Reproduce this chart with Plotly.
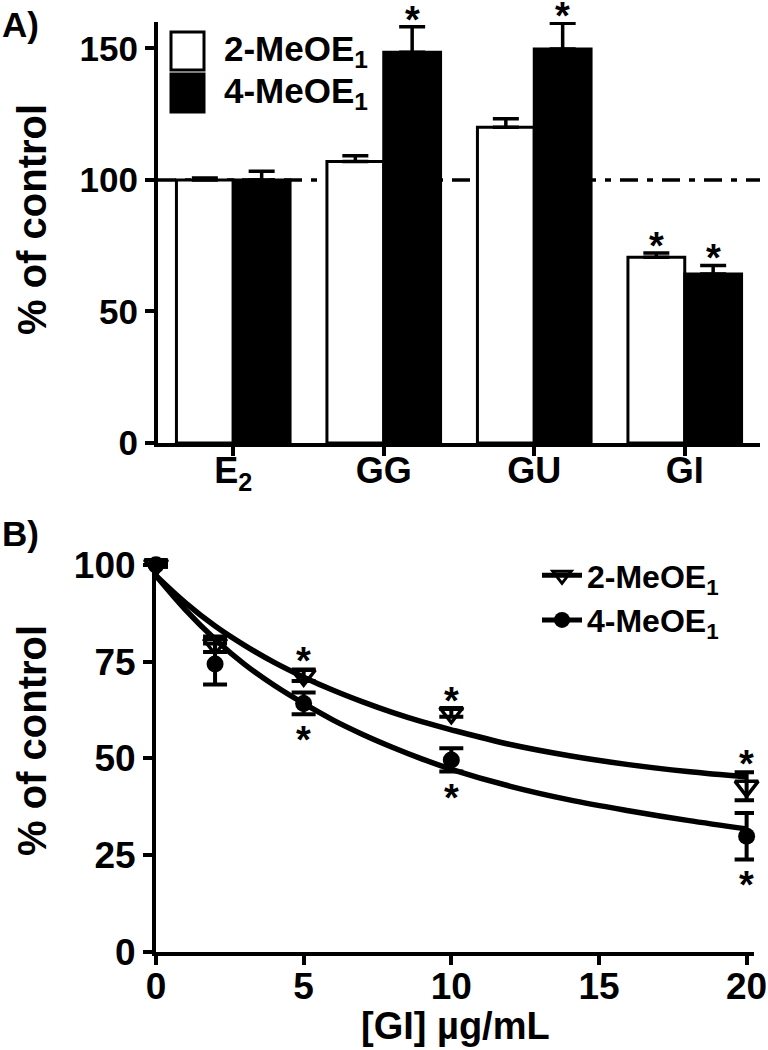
import plotly.graph_objects as go

W, H = 768, 1050

# panel A: % of control per treatment
categories = ["E<sub>2</sub>", "GG", "GU", "GI"]
a_2meo = [100, 107, 120, 70.6]
a_2meo_err = [0.7, 2.2, 3.2, 1.6]
a_4meo = [100, 148.5, 149.7, 64.2]
a_4meo_err = [3.3, 9.7, 9.8, 3.3]
a_2meo_star = [False, False, False, True]
a_4meo_star = [False, True, True, True]

# panel B: dose response to GI
b_dose = [0, 2, 5, 10, 20]
b_2meo = [100, 79.5, 71.5, 61.8, 42.8]
b_2meo_err = [0.5, 2.0, 1.5, 1.0, 3.6]
b_4meo = [100, 74.4, 64.2, 49.6, 29.9]
b_4meo_err = [0.5, 5.3, 2.8, 3.0, 6.0]
b_2meo_star = [False, False, True, True, True]
b_4meo_star = [False, False, True, True, True]

# fitted curves
fit_x = [0, 1, 2, 3, 4, 5, 6, 7, 8, 9, 10, 12, 14, 16, 18, 20]
fit_2meo = [97.2, 90.2, 84.2, 79.2, 74.8, 71.0, 67.6, 64.6, 61.9, 59.5, 57.4, 53.6, 50.7, 48.4, 46.6, 45.2]
fit_4meo = [97.2, 88.4, 80.8, 74.3, 68.9, 64.2, 59.9, 56.2, 52.9, 49.9, 47.2, 42.8, 39.3, 36.5, 34.0, 31.8]

FONT = "Liberation Sans, Arial, sans-serif"
LW = 4

# pixel boxes of the two plot areas
A_X0, A_X1, A_Y0, A_Y1 = 158, 760, 22, 443
B_X0, B_X1, B_Y0, B_Y1 = 156, 754, 561, 952
A_YR = [0, 160]
B_XR = [0, 20.25]
B_YR = [0, 101]
BARGAP = 0.245


def px(x):
    return x / W


def py(y):
    return 1 - y / H


fig = go.Figure()

fig.add_trace(go.Bar(
    x=categories, y=a_2meo, name="2-MeOE<sub>1</sub>", showlegend=False,
    marker=dict(color="white", line=dict(color="black", width=3)),
    error_y=dict(type="data", array=a_2meo_err, arrayminus=[0] * 4, symmetric=False,
                 color="black", thickness=3.5, width=13),
    cliponaxis=False, xaxis="x", yaxis="y",
))
fig.add_trace(go.Bar(
    x=categories, y=a_4meo, name="4-MeOE<sub>1</sub>", showlegend=False,
    marker=dict(color="black", line=dict(color="black", width=3)),
    error_y=dict(type="data", array=a_4meo_err, arrayminus=[0] * 4, symmetric=False,
                 color="black", thickness=3.5, width=13),
    cliponaxis=False, xaxis="x", yaxis="y",
))

# panel B fits
fig.add_trace(go.Scatter(x=fit_x, y=fit_2meo, mode="lines", showlegend=False,
                         line=dict(color="black", width=5.5, shape="spline"),
                         xaxis="x2", yaxis="y2", hoverinfo="skip"))
fig.add_trace(go.Scatter(x=fit_x, y=fit_4meo, mode="lines", showlegend=False,
                         line=dict(color="black", width=5.5, shape="spline"),
                         xaxis="x2", yaxis="y2", hoverinfo="skip"))

# panel B points
fig.add_trace(go.Scatter(
    x=b_dose, y=b_2meo, mode="markers", showlegend=False,
    marker=dict(symbol="triangle-down-open", size=20, color="black", line=dict(width=3.5, color="black")),
    error_y=dict(type="data", array=b_2meo_err, color="black", thickness=4, width=12),
    cliponaxis=False, xaxis="x2", yaxis="y2",
))
fig.add_trace(go.Scatter(
    x=b_dose, y=b_4meo, mode="markers", showlegend=False,
    marker=dict(symbol="circle", size=17, color="black"),
    error_y=dict(type="data", array=b_4meo_err, color="black", thickness=4, width=12),
    cliponaxis=False, xaxis="x2", yaxis="y2",
))

# legend entries for B
fig.add_trace(go.Scatter(
    x=[None], y=[None], mode="lines+markers", name="2-MeOE<sub>1</sub>",
    marker=dict(symbol="triangle-down-open", size=16, color="black", line=dict(width=3)),
    line=dict(color="black", width=5), xaxis="x2", yaxis="y2",
))
fig.add_trace(go.Scatter(
    x=[None], y=[None], mode="lines+markers", name="4-MeOE<sub>1</sub>",
    marker=dict(symbol="circle", size=16, color="black"),
    line=dict(color="black", width=5), xaxis="x2", yaxis="y2",
))

axis_common = dict(showline=True, linecolor="black", linewidth=LW, ticks="outside",
                   ticklen=9, tickwidth=LW, tickcolor="black", showgrid=False,
                   zeroline=False, fixedrange=True, automargin=False)

fig.update_layout(
    width=W, height=H,
    margin=dict(l=0, r=0, t=0, b=0, autoexpand=False),
    paper_bgcolor="white", plot_bgcolor="white",
    font=dict(family=FONT, color="black", size=30, weight="bold"),
    barmode="group", bargap=BARGAP, bargroupgap=0,
    xaxis=dict(domain=[px(A_X0), px(A_X1)], anchor="y", type="category",
               range=[-0.5, 3.5], tickfont=dict(size=36, weight="bold"),
               ticklabelstandoff=-16, **axis_common),
    yaxis=dict(domain=[py(A_Y1), py(A_Y0)], anchor="x", range=A_YR,
               tickvals=[0, 50, 100, 150], tickfont=dict(size=35, weight="bold"), **axis_common),
    xaxis2=dict(domain=[px(B_X0), px(B_X1)], anchor="y2", range=B_XR,
                tickvals=[0, 5, 10, 15, 20], tickfont=dict(size=37, weight="bold"),
                ticklabelstandoff=-10, **axis_common),
    yaxis2=dict(domain=[py(B_Y1), py(B_Y0)], anchor="x2", range=B_YR,
                tickvals=[0, 25, 50, 75, 100], tickfont=dict(size=37, weight="bold"), **axis_common),
    legend=dict(x=px(537), y=py(548), xanchor="left", yanchor="top",
                font=dict(size=32, weight="bold"), bgcolor="rgba(0,0,0,0)",
                tracegroupgap=0, itemwidth=40),
    showlegend=True,
)

# dash-dot reference line at 100 %
fig.add_shape(type="line", xref="x domain", yref="y", x0=0, x1=1, y0=100, y1=100,
              line=dict(color="black", width=3.5, dash="18px,9px,6px,9px"), layer="below")

# custom legend for panel A
fig.add_shape(type="rect", xref="paper", yref="paper", x0=px(171), x1=px(204), y0=py(32), y1=py(70),
              line=dict(color="black", width=3), fillcolor="white")
fig.add_shape(type="rect", xref="paper", yref="paper", x0=px(171), x1=px(204), y0=py(74), y1=py(112),
              line=dict(color="black", width=3), fillcolor="black")
for label, yc in [("2-MeOE<sub>1</sub>", 51), ("4-MeOE<sub>1</sub>", 93)]:
    fig.add_annotation(text=label, xref="paper", yref="paper", x=px(222), y=py(yc),
                       xanchor="left", yanchor="middle", showarrow=False,
                       font=dict(size=35, weight="bold"))

STAR = 38
# asterisks panel A
a_ppu = (A_Y1 - A_Y0) / (A_YR[1] - A_YR[0])
cat_px = (A_X1 - A_X0) / 4
off_px = (1 - BARGAP) / 4 * cat_px
for vals, errs, stars, sign in [(a_2meo, a_2meo_err, a_2meo_star, -1), (a_4meo, a_4meo_err, a_4meo_star, 1)]:
    for c, v, e, s in zip(categories, vals, errs, stars):
        if s:
            fig.add_annotation(text="*", x=c, y=v + e, xref="x", yref="y", showarrow=False,
                               xshift=sign * off_px, yanchor="middle", yshift=7,
                               font=dict(size=STAR, weight="bold"))

# asterisks panel B
b_ppu = (B_Y1 - B_Y0) / (B_YR[1] - B_YR[0])
for vals, errs, stars, up in [(b_2meo, b_2meo_err, b_2meo_star, True), (b_4meo, b_4meo_err, b_4meo_star, False)]:
    for d, v, e, s in zip(b_dose, vals, errs, stars):
        if s:
            shift = e * b_ppu + 17
            fig.add_annotation(text="*", x=d, y=v, xref="x2", yref="y2", showarrow=False,
                               yanchor="middle", yshift=(shift - 9) if up else (-shift - 9),
                               font=dict(size=STAR, weight="bold"))

# panel labels and axis titles
fig.add_annotation(text="A)", xref="paper", yref="paper", x=0, y=py(3), xanchor="left", yanchor="top",
                   showarrow=False, font=dict(size=35, weight="bold"))
fig.add_annotation(text="B)", xref="paper", yref="paper", x=0, y=py(512), xanchor="left", yanchor="top",
                   showarrow=False, font=dict(size=35, weight="bold"))
fig.add_annotation(text="% of control", xref="paper", yref="paper", x=px(32), y=py(220),
                   textangle=-90, showarrow=False, xanchor="center", yanchor="middle",
                   font=dict(size=40, weight="bold"))
fig.add_annotation(text="% of control", xref="paper", yref="paper", x=px(32), y=py(741),
                   textangle=-90, showarrow=False, xanchor="center", yanchor="middle",
                   font=dict(size=40, weight="bold"))
fig.add_annotation(text="[GI] µg/mL", xref="paper", yref="paper", x=px(455), y=py(1026),
                   showarrow=False, xanchor="center", yanchor="middle",
                   font=dict(size=38, weight="bold"))

# the page body has a default 8px margin; drop it so the figure fills the window
fig.write_html("out.html", config={"displayModeBar": False},
               post_script="document.body.style.margin='0px';")
